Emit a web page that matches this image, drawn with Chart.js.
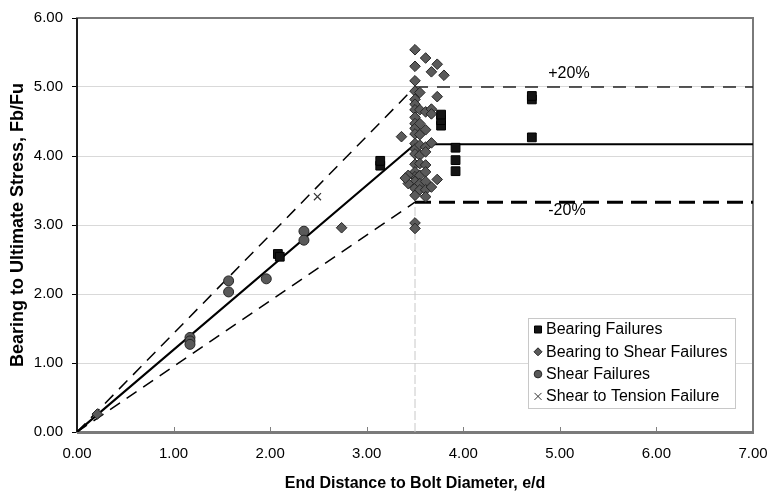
<!DOCTYPE html>
<html><head><meta charset="utf-8">
<script src="https://cdn.jsdelivr.net/npm/chart.js@4/dist/chart.umd.min.js"></script>
<style>html,body{margin:0;padding:0;background:#fff;}#wrap{width:769px;height:496px;}</style>
</head><body><div id="wrap"><canvas id="c" width="769" height="496"></canvas></div>
<script>
// ---- data ----
const xTicks = [0, 1, 2, 3, 4, 5, 6, 7];
const yTicks = [0, 1, 2, 3, 4, 5, 6];

const bearingX = [2.08, 2.10, 3.14, 3.14, 3.77, 3.77, 3.77, 3.92, 3.92, 3.92, 4.71, 4.71, 4.71];
const bearingY = [2.58, 2.54, 3.86, 3.93, 4.44, 4.52, 4.60, 4.12, 3.94, 3.78, 4.82, 4.87, 4.27];

const bearingShearX = [
  3.50,3.50,3.50,3.50,3.50,3.50,3.50,3.50,3.50,3.50,3.50,3.50,3.50,3.50,3.50,3.50,3.50,3.50,3.50,3.50,3.50,3.50,
  3.55,3.55,3.55,3.55,3.55,3.55,3.55,3.55,3.55,3.55,
  3.61,3.61,3.61,3.61,3.61,3.61,3.61,3.61,3.61,3.61,
  3.67,3.67,3.67,3.67,3.67,
  3.73,3.73,3.73,
  3.80, 3.36, 3.43, 3.43, 3.40, 2.74, 0.21];
const bearingShearY = [
  5.54,5.30,5.09,4.94,4.82,4.75,4.67,4.56,4.47,4.40,4.32,4.18,4.10,4.03,3.88,3.77,3.70,3.63,3.53,3.43,3.03,2.95,
  4.92,4.67,4.47,4.31,4.16,4.01,3.89,3.72,3.60,3.51,
  5.42,4.64,4.38,4.13,4.06,3.87,3.77,3.63,3.51,3.41,
  5.22,4.68,4.61,4.19,3.55,
  5.33,4.86,3.66,
  5.17, 4.28, 3.72, 3.60, 3.68, 2.96, 0.26];

const shearX = [1.17, 1.17, 1.17, 1.57, 1.57, 1.96, 2.35, 2.35];
const shearY = [1.37, 1.32, 1.27, 2.19, 2.03, 2.22, 2.91, 2.78];

const tensionX = [2.49];
const tensionY = [3.41];

const fitX = [0, 3.5, 7];
const fitY = [0, 4.17, 4.17];
const upperDiagX = [0, 3.5];
const upperDiagY = [0, 5.0];
const upperFlatX = [3.5, 7];
const upperFlatY = [5.0, 5.0];
const lowerDiagX = [0, 3.5];
const lowerDiagY = [0, 3.33];
const lowerFlatX = [3.5, 7];
const lowerFlatY = [3.33, 3.33];
const refX = [3.5, 3.5];
const refY = [0, 5.0];

const seriesNames = ['Bearing Failures', 'Bearing to Shear Failures', 'Shear Failures', 'Shear to Tension Failure'];
const bandLabels = ['+20%', '-20%'];
const bandLabelX = [4.88, 4.88];
const bandLabelY = [5.2, 3.21];

const xTitle = 'End Distance to Bolt Diameter, e/d';
const yTitle = 'Bearing to Ultimate Stress, Fb/Fu';

// ---- helpers ----
const pts = (xs, ys) => xs.map((x, i) => ({x: x, y: ys[i]}));
const FONT = '"Liberation Sans", Arial, sans-serif';

const lineDs = (xs, ys, color, width, dash, order) => ({
  type: 'scatter', data: pts(xs, ys), showLine: true, borderColor: color, borderWidth: width,
  borderDash: dash, pointRadius: 0, pointHoverRadius: 0, fill: false, order: order
});

const markerStyles = [
  {style: 'rect', r: 6.2, bg: '#141414', bd: '#000000', bw: 1},
  {style: 'rectRot', r: 5.3, bg: '#5a5a5a', bd: '#262626', bw: 1},
  {style: 'circle', r: 5, bg: '#595959', bd: '#262626', bw: 1},
  {style: 'crossRot', r: 5, bg: '#333333', bd: '#333333', bw: 1.2}
];

const ptDs = (xs, ys, name, ms, order) => ({
  type: 'scatter', label: name, data: pts(xs, ys), pointStyle: ms.style, pointRadius: ms.r,
  pointHoverRadius: ms.r, backgroundColor: ms.bg, borderColor: ms.bd, borderWidth: ms.bw, order: order
});

const framePlugin = {
  id: 'frame',
  beforeDatasetsDraw(chart) {
    const {ctx, chartArea: a, scales: {x}} = chart;
    ctx.save();
    ctx.strokeStyle = '#808080';
    ctx.lineWidth = 1;
    xTicks.forEach(v => {
      const px = Math.round(x.getPixelForValue(v)) + 0.5;
      ctx.beginPath(); ctx.moveTo(px, a.bottom); ctx.lineTo(px, a.bottom - 5); ctx.stroke();
    });
    ctx.strokeStyle = '#7a7a7a';
    ctx.lineWidth = 2;
    ctx.strokeRect(a.left, a.top, a.right - a.left, a.bottom - a.top);
    ctx.lineWidth = 3;
    ctx.beginPath(); ctx.moveTo(a.left, a.bottom + 0.5); ctx.lineTo(a.right + 1, a.bottom + 0.5); ctx.stroke();
    ctx.strokeStyle = '#000';
    ctx.lineWidth = 1.5;
    ctx.beginPath(); ctx.moveTo(a.left, a.top); ctx.lineTo(a.left, a.bottom); ctx.stroke();
    ctx.restore();
  },
  afterDatasetsDraw(chart) {
    const {ctx, scales: {x, y}} = chart;
    ctx.save();
    ctx.font = '16px ' + FONT;
    ctx.fillStyle = '#000';
    ctx.textAlign = 'left';
    ctx.textBaseline = 'middle';
    bandLabels.forEach((t, i) => {
      ctx.fillText(t, x.getPixelForValue(bandLabelX[i]), y.getPixelForValue(bandLabelY[i]));
    });
    // legend
    const bx = 528, by = 318, bw = 207, bh = 90;
    ctx.fillStyle = '#fff';
    ctx.fillRect(bx, by, bw, bh);
    ctx.strokeStyle = '#c8c8c8';
    ctx.lineWidth = 1;
    ctx.strokeRect(bx + 0.5, by + 0.5, bw, bh);
    seriesNames.forEach((name, i) => {
      const cy = by + 11.5 + i * 22.3;
      const cx = 538;
      const ms = markerStyles[i];
      ctx.fillStyle = ms.bg; ctx.strokeStyle = ms.bd; ctx.lineWidth = 1;
      ctx.beginPath();
      if (ms.style === 'rect') { ctx.rect(cx - 3.5, cy - 3.5, 7, 7); ctx.fill(); ctx.stroke(); }
      else if (ms.style === 'rectRot') { ctx.moveTo(cx, cy - 4); ctx.lineTo(cx + 4, cy); ctx.lineTo(cx, cy + 4); ctx.lineTo(cx - 4, cy); ctx.closePath(); ctx.fill(); ctx.stroke(); }
      else if (ms.style === 'circle') { ctx.arc(cx, cy, 3.8, 0, Math.PI * 2); ctx.fill(); ctx.stroke(); }
      else { ctx.moveTo(cx - 3.5, cy - 3.5); ctx.lineTo(cx + 3.5, cy + 3.5); ctx.moveTo(cx + 3.5, cy - 3.5); ctx.lineTo(cx - 3.5, cy + 3.5); ctx.stroke(); }
      ctx.fillStyle = '#000';
      ctx.font = '16px ' + FONT;
      ctx.textAlign = 'left';
      ctx.textBaseline = 'middle';
      ctx.fillText(name, 546, cy + 0.5);
    });
    ctx.restore();
  }
};

new Chart(document.getElementById('c'), {
  type: 'scatter',
  data: {
    datasets: [
      ptDs(bearingX, bearingY, seriesNames[0], markerStyles[0], 1),
      ptDs(bearingShearX, bearingShearY, seriesNames[1], markerStyles[1], 2),
      ptDs(shearX, shearY, seriesNames[2], markerStyles[2], 3),
      ptDs(tensionX, tensionY, seriesNames[3], markerStyles[3], 4),
      lineDs(fitX, fitY, '#000', 2.2, [], 10),
      lineDs(upperDiagX, upperDiagY, '#000', 1.5, [12, 8], 11),
      lineDs(upperFlatX, upperFlatY, '#222', 1.5, [13, 9], 12),
      lineDs(lowerDiagX, lowerDiagY, '#000', 1.5, [12, 8], 13),
      lineDs(lowerFlatX, lowerFlatY, '#000', 3, [16, 8], 14),
      lineDs(refX, refY, '#c8c8c8', 1, [9, 3], 15)
    ]
  },
  options: {
    responsive: false,
    devicePixelRatio: 1,
    animation: false,
    events: [],
    layout: {padding: {top: 15, right: 0, left: 0, bottom: 0}},
    plugins: {legend: {display: false}, tooltip: {enabled: false}},
    scales: {
      x: {
        type: 'linear', min: 0, max: 7,
        afterFit: s => { s.height = 64; s.paddingRight = 16; },
        afterBuildTicks: s => { s.ticks = xTicks.map(v => ({value: v})); },
        grid: {display: false},
        border: {display: false},
        ticks: {padding: 5, color: '#000', font: {family: FONT, size: 15}, callback: v => Number(v).toFixed(2), maxRotation: 0},
        title: {display: true, text: xTitle, color: '#000', font: {family: FONT, size: 16, weight: 'bold'}, padding: {top: 0, bottom: 3}}
      },
      y: {
        type: 'linear', min: 0, max: 6,
        afterFit: s => { s.width = 77; },
        afterBuildTicks: s => { s.ticks = yTicks.map(v => ({value: v})); },
        grid: {color: '#d9d9d9', lineWidth: 1, tickColor: '#000', tickLength: 5, drawTicks: true},
        border: {display: false},
        ticks: {padding: 9, color: '#000', font: {family: FONT, size: 15}, callback: v => Number(v).toFixed(2)},
        title: {display: true, text: yTitle, color: '#000', font: {family: FONT, size: 18, weight: 'bold'}, padding: {top: 7, bottom: 0}}
      }
    }
  },
  plugins: [framePlugin]
});
</script>
</body></html>
